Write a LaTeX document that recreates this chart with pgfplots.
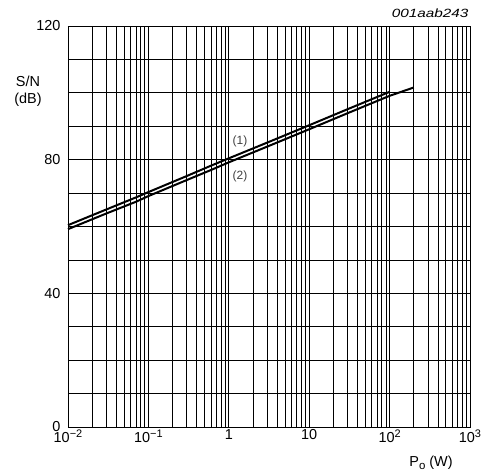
\documentclass[border=0pt]{standalone}
\usepackage{pgfplots}
\pgfplotsset{compat=1.18}
\usepackage{fontspec}
\setmainfont{Liberation Sans}
\newcommand{\supx}[1]{\raisebox{0.75ex}{\fontsize{11}{12}\selectfont #1}}
\begin{document}
\begin{tikzpicture}[x=1bp,y=1bp]
\path (-68bp,-47bp) rectangle (417bp,427bp);
\begin{axis}[
  at={(0,0)}, anchor=south west,
  scale only axis, width=402bp, height=401bp,
  xmode=log, xmin=0.01, xmax=1000,
  ymin=0, ymax=120,
  xtick={0.01,0.1,1,10,100,1000},
  xticklabels={10\supx{−2},10\supx{−1},1,10,10\supx{2},10\supx{3}},
  minor xtick={0.02,0.03,0.04,0.05,0.06,0.07,0.08,0.09,0.2,0.3,0.4,0.5,0.6,0.7,0.8,0.9,2,3,4,5,6,7,8,9,20,30,40,50,60,70,80,90,200,300,400,500,600,700,800,900},
  ytick={0,40,80,120},
  minor ytick={10,20,30,50,60,70,90,100,110},
  grid=both,
  major grid style={black, line width=0.7pt},
  minor grid style={black, line width=0.7pt},
  axis line style={black, line width=0.8pt},
  tick style={draw=none},
  /pgf/number format/assume math mode=true,
  ticklabel style={font=\fontsize{14.5}{16}\selectfont},
  xticklabel style={yshift=1bp},
  yticklabel style={xshift=-4bp},
  clip=false,
]
\addplot[black, line width=2pt] coordinates {
(0.01,60.4) (0.03,65.1) (0.07,68.7) (0.1,70.3) (0.3,75.1) (0.6,78.2) (1,80.4) (3,85.1) (10,90.3) (30,95.1) (100,100.3)
};
\addplot[black, line width=2pt] coordinates {
(0.01,59.2) (0.03,63.9) (0.07,67.4) (0.1,69.1) (0.3,73.9) (0.6,76.9) (1,79.2) (3,83.9) (10,89.1) (30,93.9) (100,99.1) (200,101.6)
};
\node[font=\fontsize{12}{14}\selectfont, text=black!75] at (axis cs:1.38,85.4) {(1)};
\node[font=\fontsize{12}{14}\selectfont, text=black!75] at (axis cs:1.38,75.1) {(2)};
\end{axis}
\node[align=center, font=\fontsize{14.5}{17}\selectfont] at (-40bp,336bp) {S/N\\(dB)};
\node[anchor=east, font=\fontsize{12}{14}\selectfont\itshape] at (404bp,414bp) {\scalebox{1.28}[1]{001aab243}};
\node[font=\fontsize{14.5}{16}\selectfont] at (363bp,-36bp) {P\raisebox{-0.35ex}{\fontsize{11.5}{12}\selectfont o} (W)};
\end{tikzpicture}
\end{document}
